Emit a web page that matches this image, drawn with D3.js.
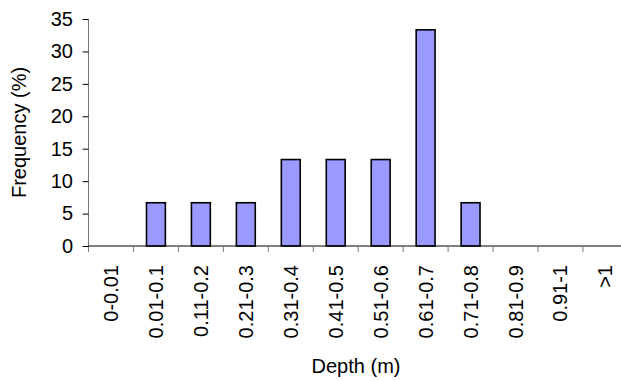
<!DOCTYPE html>
<html>
<head>
<meta charset="utf-8">
<script src="https://cdn.jsdelivr.net/npm/d3@7"></script>
<style>
  body { margin: 0; background: #fff; }
  text { font-family: Arial, "Liberation Sans", sans-serif; fill: #000; }
</style>
</head>
<body>
<div id="chart"></div>
<script>
const categories = ['0-0.01', '0.01-0.1', '0.11-0.2', '0.21-0.3', '0.31-0.4', '0.41-0.5',
    '0.51-0.6', '0.61-0.7', '0.71-0.8', '0.81-0.9', '0.91-1', '>1'];
const frequency = [0, 6.67, 6.67, 6.67, 13.33, 13.33, 13.33, 33.33, 6.67, 0, 0, 0];
const yTicks = [0, 5, 10, 15, 20, 25, 30, 35];

const w = 621;
const h = 381;
const fontSize = '20px';
const fontFamily = 'Arial, "Liberation Sans", sans-serif';

const svg = d3.select('#chart')
    .append('svg')
    .attr('width', w)
    .attr('height', h);

const x0 = 88.5;
const x = d3.scaleBand()
    .domain(categories)
    .range([x0, x0 + 12 * 44.95])
    .paddingInner(0.58)
    .paddingOuter(0.29);
const step = x.step();

const y = d3.scaleLinear()
    .domain([0, 35])
    .range([246, 19]);

// bars
svg.selectAll('rect.bar')
    .data(categories.map((c, i) => ({ c, v: frequency[i] })).filter(d => d.v > 0))
    .enter()
    .append('rect')
    .attr('class', 'bar')
    .attr('x', d => x(d.c))
    .attr('y', d => y(d.v))
    .attr('width', x.bandwidth())
    .attr('height', d => y(0) - y(d.v))
    .attr('fill', '#9999ff')
    .attr('stroke', '#000')
    .attr('stroke-width', 1.6);

// y axis
const yAxis = svg.append('g')
    .attr('transform', `translate(${x0},0)`)
    .call(d3.axisLeft(y).tickValues(yTicks).tickSize(6).tickPadding(9.5));
yAxis.select('.domain').attr('stroke', '#777').attr('d', `M0,${y(35)}V${y(0) + 6}`);
yAxis.selectAll('.tick line').attr('stroke', '#000');
yAxis.selectAll('.tick text')
    .style('font-size', fontSize)
    .attr('font-family', fontFamily);

// x axis
const xAxis = svg.append('g')
    .attr('transform', `translate(0,${y(0)})`)
    .call(d3.axisBottom(x).tickSize(0));
xAxis.select('.domain').attr('stroke', '#000').attr('d', `M${x0},0H${x0 + step * categories.length}`);
xAxis.selectAll('.tick text')
    .style('font-size', fontSize)
    .attr('font-family', fontFamily)
    .attr('transform', 'rotate(-90)')
    .attr('text-anchor', 'end')
    .attr('x', -19)
    .attr('y', 0)
    .attr('dy', '0.35em');

// boundary ticks
xAxis.selectAll('line.bound')
    .data(d3.range(1, categories.length + 1))
    .enter()
    .append('line')
    .attr('class', 'bound')
    .attr('x1', i => x0 + i * step)
    .attr('x2', i => x0 + i * step)
    .attr('y1', 0)
    .attr('y2', 6)
    .attr('stroke', '#777');

// titles
svg.append('text')
    .attr('transform', `translate(26,${(y(0) + y(35)) / 2}) rotate(-90)`)
    .attr('text-anchor', 'middle')
    .style('font-size', fontSize)
    .text('Frequency (%)');

svg.append('text')
    .attr('x', 356)
    .attr('y', 373)
    .attr('text-anchor', 'middle')
    .style('font-size', fontSize)
    .text('Depth (m)');
</script>
</body>
</html>
